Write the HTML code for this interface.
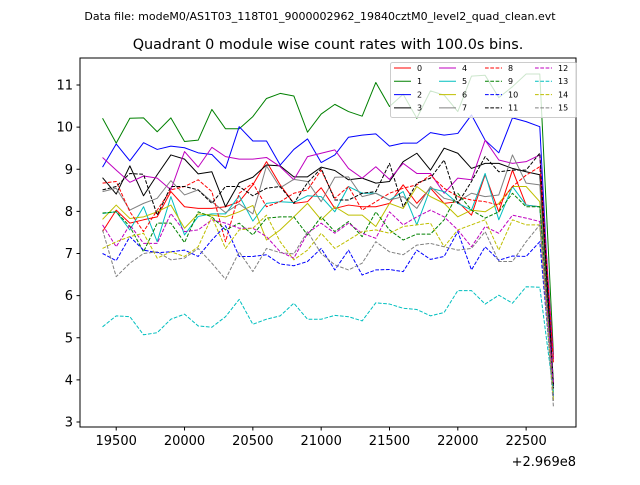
<!DOCTYPE html>
<html><head><meta charset="utf-8"><style>
body{margin:0;background:#fff;}
svg text{font-family:"DejaVu Sans","Liberation Sans",sans-serif;}
</style></head><body>
<svg id="chart" width="640" height="480" xmlns="http://www.w3.org/2000/svg">
<rect width="640" height="480" fill="#fff"/>
<text x="320" y="20" font-size="11" text-anchor="middle">Data file: modeM0/AS1T03_118T01_9000002962_19840cztM0_level2_quad_clean.evt</text>
<text x="328" y="49" font-size="14.4" text-anchor="middle">Quadrant 0 module wise count rates with 100.0s bins.</text>
<g id="plot"></g>
<rect x="80" y="58" width="496" height="369" fill="none" stroke="#000" stroke-width="1"/>
<g id="xticks"></g>
<g id="yticks"></g>
<text x="576" y="466" font-size="13" text-anchor="end">+2.969e8</text>
<g id="legend"></g>
</svg>
<script>
const times=[19400,19500,19600,19700,19800,19900,20000,20100,20200,20300,20400,20500,20600,20700,20800,20900,21000,21100,21200,21300,21400,21500,21600,21700,21800,21900,22000,22100,22200,22300,22400,22500,22600,22700];
const s0=[7.52,8.03,7.72,7.80,7.87,8.47,8.11,8.07,8.07,8.11,8.23,8.63,9.18,8.63,8.19,8.23,8.56,8.07,8.15,8.11,8.11,8.19,8.63,8.19,8.55,8.19,8.23,7.91,8.87,7.99,8.98,8.15,8.11,4.5];
const s1=[10.21,9.62,10.21,10.22,9.89,10.22,9.66,9.69,10.42,9.96,9.96,10.25,10.68,10.80,10.74,9.88,10.31,10.54,10.37,10.26,11.06,10.49,10.78,10.21,10.86,10.76,10.37,11.21,11.23,10.7,10.96,11.26,11.26,4.6];
const s2=[9.05,9.60,9.20,9.63,9.47,9.55,9.51,9.39,9.35,9.02,10.01,9.67,9.67,9.10,9.47,9.72,9.16,9.34,9.76,9.81,9.84,9.55,9.62,9.62,9.87,9.81,9.85,10.29,9.69,9.39,10.22,10.13,10.01,3.8];
const s3=[8.80,8.41,9.08,8.37,8.87,9.34,9.24,8.89,8.94,8.11,8.68,8.81,9.10,9.08,8.82,8.82,9.05,8.97,8.75,8.79,8.67,8.71,9.18,9.38,8.98,9.50,9.38,9.02,9.14,9.14,9.02,8.94,8.87,3.9];
const s4=[9.28,8.98,8.69,8.84,8.79,8.51,9.42,9.05,9.52,9.30,9.24,9.24,9.28,9.06,8.75,9.30,9.38,9.46,9.02,8.79,9.06,8.76,9.14,8.90,8.90,8.43,8.79,8.75,9.69,9.22,9.14,9.18,9.34,4.5];
const s5=[7.95,7.99,7.56,8.11,7.28,8.35,7.44,7.88,7.94,7.94,8.37,7.77,8.19,8.23,8.21,8.37,8.35,7.99,8.59,8.43,8.43,8.27,8.47,7.68,8.55,8.47,8.19,8.03,8.90,7.80,8.59,8.15,8.11,3.6];
const s6=[7.81,8.15,7.83,7.87,7.99,8.15,7.60,7.94,7.91,7.87,7.99,8.14,7.32,7.56,7.87,8.19,7.80,8.11,7.91,7.91,7.64,8.19,8.07,8.59,8.35,8.19,7.87,8.03,7.99,8.19,8.59,8.59,8.23,3.7];
const s7=[8.47,8.55,8.03,8.19,8.31,8.73,8.39,8.51,8.23,7.97,8.18,7.94,9.08,8.56,8.76,8.71,8.23,8.81,8.82,8.35,8.43,8.27,8.35,8.07,8.59,8.31,8.23,8.43,8.35,8.39,9.34,8.67,8.63,3.5];
const s8=[8.67,8.71,7.99,7.52,8.03,8.51,8.59,8.75,8.47,7.28,8.43,8.67,8.11,8.23,8.43,8.51,8.98,8.31,8.59,8.03,8.23,8.43,8.55,8.63,8.86,8.55,8.35,8.27,8.23,8.15,8.59,8.86,9.06,4.4];
const s9=[7.96,7.99,7.64,7.04,7.72,7.72,7.26,7.99,7.87,7.56,7.72,7.44,7.84,7.87,7.87,7.44,7.87,7.52,7.76,7.40,7.99,7.56,7.32,7.46,7.46,7.80,8.43,8.03,7.84,7.99,8.43,8.11,8.11,4.0];
const s10=[7.00,6.83,7.40,7.08,7.02,7.04,7.08,6.93,7.32,7.66,6.93,6.93,6.97,6.75,6.71,6.81,7.12,6.61,7.08,6.49,6.61,6.62,6.57,7.08,6.86,6.93,7.52,6.61,7.16,6.84,6.94,6.93,7.28,3.6];
const s11=[8.51,8.59,8.90,8.88,7.91,8.59,8.59,8.51,8.19,8.59,8.59,8.37,8.55,8.59,8.19,8.68,9.02,8.27,8.27,8.43,8.47,9.14,8.11,8.67,8.79,9.22,8.19,8.71,9.30,8.94,8.98,8.98,9.38,3.8];
const s12=[7.68,7.16,7.68,7.24,7.24,7.95,7.52,7.56,7.80,7.72,7.60,7.60,7.40,7.04,6.89,7.48,7.72,7.48,7.72,7.48,7.36,7.99,7.68,7.87,8.03,7.87,7.56,7.16,7.64,7.48,7.91,7.84,7.76,3.9];
const s13=[5.26,5.52,5.50,5.07,5.12,5.44,5.56,5.28,5.25,5.50,5.91,5.32,5.44,5.52,5.82,5.44,5.44,5.53,5.50,5.40,5.83,5.80,5.70,5.67,5.52,5.60,6.12,6.12,5.80,6.01,5.82,6.21,6.20,3.7];
const s14=[7.12,7.28,7.40,7.48,6.89,7.04,6.93,7.16,7.87,7.12,7.56,7.60,7.91,7.28,6.85,7.08,7.48,7.12,7.32,7.52,7.56,7.48,7.64,7.68,7.72,7.16,7.56,7.68,7.80,7.08,7.80,7.68,7.68,3.5];
const s15=[7.56,6.45,6.77,7.00,7.04,6.85,6.89,7.12,6.77,6.39,7.04,6.57,7.12,7.02,6.99,7.52,7.00,6.73,6.61,6.77,7.28,7.04,6.97,7.20,7.24,7.16,7.08,7.12,7.52,6.81,6.81,7.28,7.68,3.35];
const seriesLabels=["0","1","2","3","4","5","6","7","8","9","10","11","12","13","14","15"];
const xTicks=[19500,20000,20500,21000,21500,22000,22500];
const yTicks=[3,4,5,6,7,8,9,10,11];

const series=[s0,s1,s2,s3,s4,s5,s6,s7,s8,s9,s10,s11,s12,s13,s14,s15];
const colors=["#ff0000","#008000","#0000ff","#000000","#bf00bf","#00bfbf","#bfbf00","#808080"];
const NS="http://www.w3.org/2000/svg";
const X0=80,X1=576,xmin=19235,xmax=22865;
const xs=v=>X0+(v-xmin)/(xmax-xmin)*(X1-X0);
const ys=v=>422-(v-3)*42.125;
function mk(tag,attrs,parent){const e=document.createElementNS(NS,tag);for(const k in attrs)e.setAttribute(k,attrs[k]);parent.appendChild(e);return e;}
const plot=document.getElementById('plot');
series.forEach((s,k)=>{
  const d=s.map((v,i)=>(i?'L':'M')+xs(times[i]).toFixed(2)+','+ys(v).toFixed(2)).join('');
  const p=mk('path',{d:d,fill:'none',stroke:colors[k%8],'stroke-width':1,'stroke-linejoin':'round'},plot);
  if(k>=8)p.setAttribute('stroke-dasharray','3.7,1.6');
  
  
});
const xg=document.getElementById('xticks');
xTicks.forEach(t=>{
  const x=xs(t);
  const l=mk('line',{x1:x,x2:x,y1:427,y2:430.5,stroke:'#000'},xg);
  
  
  const tx=mk('text',{x:x,y:445,'font-size':13,'text-anchor':'middle'},xg);
  tx.textContent=t;
  
  
});
const yg=document.getElementById('yticks');
yTicks.forEach(t=>{
  const y=ys(t);
  const l=mk('line',{x1:76.5,x2:80,y1:y,y2:y,stroke:'#000'},yg);
  
  
  const tx=mk('text',{x:73,y:y+4.5,'font-size':13,'text-anchor':'end'},yg);
  tx.textContent=t;
  
  
});
const lg=document.getElementById('legend');
const box=mk('rect',{x:390.5,y:62.5,width:186,height:55,rx:2,fill:'#fff','fill-opacity':0.8,stroke:'#ccc'},lg);


const colX=[394,439,485,535];
seriesLabels.forEach((lab,k)=>{
  const c=Math.floor(k/4),r=k%4;
  const y=68+r*13.3;
  const l=mk('line',{x1:colX[c],x2:colX[c]+17,y1:y,y2:y,stroke:colors[k%8],'stroke-width':1},lg);
  if(k>=8)l.setAttribute('stroke-dasharray','3.7,1.6');
  
  
  const tx=mk('text',{x:colX[c]+23,y:y+2.8,'font-size':8},lg);
  tx.textContent=lab;
  
  
});
</script>
</body></html>
